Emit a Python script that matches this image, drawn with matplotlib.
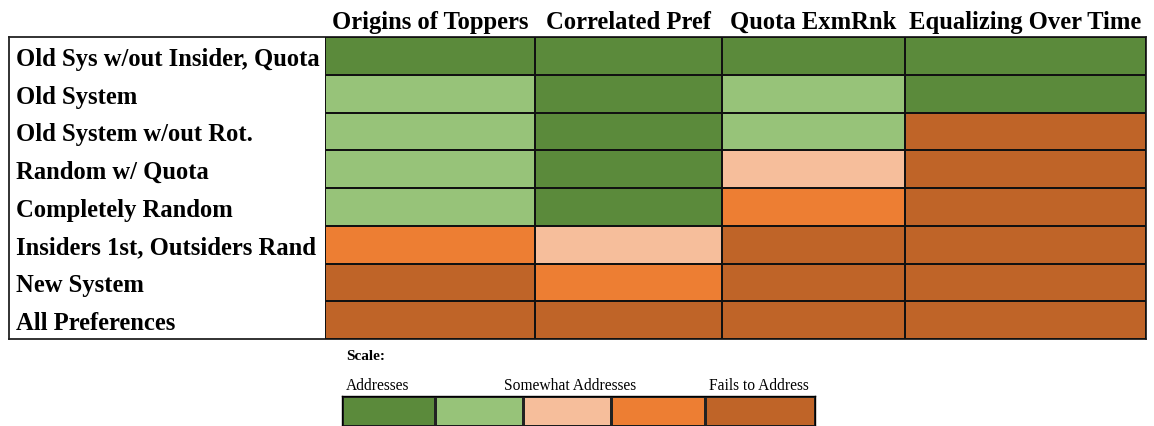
import numpy as np
import matplotlib
matplotlib.use("Agg")
import matplotlib.pyplot as plt
from matplotlib.colors import ListedColormap

plt.rcParams['font.family'] = 'Liberation Serif'

criteria = ["Origins of Toppers", "Correlated Pref", "Quota ExmRnk", "Equalizing Over Time"]
systems = ["Old Sys w/out Insider, Quota", "Old System", "Old System w/out Rot.",
           "Random w/ Quota", "Completely Random", "Insiders 1st, Outsiders Rand",
           "New System", "All Preferences"]
# 0 = addresses ... 4 = fails to address
scores = np.array([
    [0, 0, 0, 0],
    [1, 0, 1, 0],
    [1, 0, 1, 4],
    [1, 0, 2, 4],
    [1, 0, 3, 4],
    [3, 2, 4, 4],
    [4, 3, 4, 4],
    [4, 4, 4, 4],
])
col_widths = [210, 187, 183, 241]
scale_colors = ["#5B8A3B", "#97C379", "#F6BE9B", "#ED7E33", "#BF6428"]
scale_widths = [93, 88, 88, 94, 110]
scale_labels = ["Addresses", "Somewhat Addresses", "Fails to Address"]

W, H = 1154, 427
fig = plt.figure(figsize=(W / 100, H / 100), dpi=100)

def rect(x0, y0, x1, y1):
    return [x0 / W, 1 - y1 / H, (x1 - x0) / W, (y1 - y0) / H]

cmap = ListedColormap(scale_colors)

# outer box
box = fig.add_axes(rect(9, 38, 1146, 340))
box.set_xticks([])
box.set_yticks([])
for s in box.spines.values():
    s.set_linewidth(1.3)
    s.set_color("#222222")

ax = fig.add_axes(rect(325, 38, 1146, 340))
xe = np.concatenate([[0], np.cumsum(col_widths)])
ye = np.arange(len(systems) + 1)
ax.pcolormesh(xe, ye, scores, cmap=cmap, vmin=-0.5, vmax=4.5,
              edgecolors="#111111", linewidth=1.1)
ax.set_xlim(xe[0], xe[-1])
ax.set_ylim(len(systems), 0)
for s in ax.spines.values():
    s.set_visible(False)
ax.xaxis.tick_top()
ax.set_xticks((xe[:-1] + xe[1:]) / 2)
ax.set_xticklabels(criteria, fontsize=17.7, fontweight="bold")
ax.set_yticks(ye[:-1] + 0.5)
ax.set_yticklabels(systems, fontsize=17.7, fontweight="bold", ha="left")
ax.tick_params(length=0)
ax.tick_params(axis="x", pad=2.8)
ax.tick_params(axis="y", pad=(325 - 16) * 0.72)

# scale
fig.text(346 / W, 1 - 357 / H, "Scale:", fontsize=11, fontweight="bold", va="center")
lg = fig.add_axes(rect(342, 397, 815, 427))
se = np.concatenate([[0], np.cumsum(scale_widths)])
lg.pcolormesh(se, [0, 1], np.arange(5).reshape(1, -1), cmap=cmap, vmin=-0.5, vmax=4.5,
              edgecolors="#222222", linewidth=1)
lg.set_xlim(se[0], se[-1])
lg.set_ylim(0, 1)
lg.set_xticks([])
lg.set_yticks([])
for s in lg.spines.values():
    s.set_linewidth(1)
fig.text(346 / W, 1 - 386 / H, scale_labels[0], fontsize=11.2, va="center")
fig.text(570 / W, 1 - 386 / H, scale_labels[1], fontsize=11.2, va="center", ha="center")
fig.text(759 / W, 1 - 386 / H, scale_labels[2], fontsize=11.2, va="center", ha="center")

fig.savefig("out.png", dpi=100)
